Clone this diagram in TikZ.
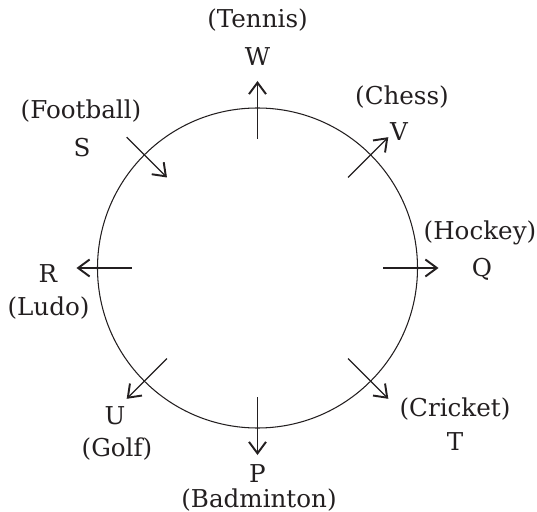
\documentclass[tikz,border=0pt]{standalone}
\usepackage{fontspec}
\setmainfont{DejaVu Serif}
\usepackage{tikz}
\usetikzlibrary{arrows.meta}
\definecolor{InkGray}{RGB}{35,31,32}
\tikzset{
	ring/.style={circle,draw=InkGray,line width=0.6pt,minimum size=6.4cm,inner sep=0pt},
	spoke/.style={draw=InkGray,line width=0.8pt,-{Straight Barb[length=2.3mm,width=3.4mm,line width=1.1pt]}},
	lbl/.style={text=InkGray,font=\fontsize{14}{17}\selectfont,inner sep=0pt},
}
\begin{document}
\begin{tikzpicture}
	\useasboundingbox (-5.15,-4.86) rectangle (5.59,5.36);
	\node[ring] (ring) at (0,0) {};
	% ends of the eight spokes
	\foreach \nm/\ang/\rin/\rout in {w/90/2.58/3.74,v/45/2.56/3.7,q/0/2.51/3.62,t/-45/2.56/3.7,p/-90/2.58/3.74,u/-135/2.56/3.7,r/180/2.51/3.62,s/135/2.56/3.7}
	{
		\coordinate (\nm-in) at (\ang:\rin);
		\coordinate (\nm-out) at (\ang:\rout);
	}
	\foreach \nm in {w,v,q,t,p,u,r}
	\draw[spoke] (\nm-in) -- (\nm-out);
	\draw[spoke] (s-out) -- (s-in);
	% names and games
	\node[lbl] (tennis) at (0,4.95) {(Tennis)};
	\node[lbl] (W) at (0,4.23) {W};
	\node[lbl] (chess) at (2.89,3.41) {(Chess)};
	\node[lbl] (V) at (2.83,2.72) {V};
	\node[lbl] (football) at (-3.53,3.14) {(Football)};
	\node[lbl] (S) at (-3.51,2.40) {S};
	\node[lbl] (hockey) at (4.45,0.70) {(Hockey)};
	\node[lbl] (Q) at (4.49,-0.02) {Q};
	\node[lbl] (R) at (-4.19,-0.12) {R};
	\node[lbl] (ludo) at (-4.18,-0.80) {(Ludo)};
	\node[lbl] (U) at (-2.85,-2.96) {U};
	\node[lbl] (golf) at (-2.81,-3.62) {(Golf)};
	\node[lbl] (P) at (0,-4.12) {P};
	\node[lbl] (badminton) at (0.03,-4.64) {(Badminton)};
	\node[lbl] (cricket) at (3.95,-2.82) {(Cricket)};
	\node[lbl] (T) at (3.95,-3.48) {T};
\end{tikzpicture}
\end{document}
